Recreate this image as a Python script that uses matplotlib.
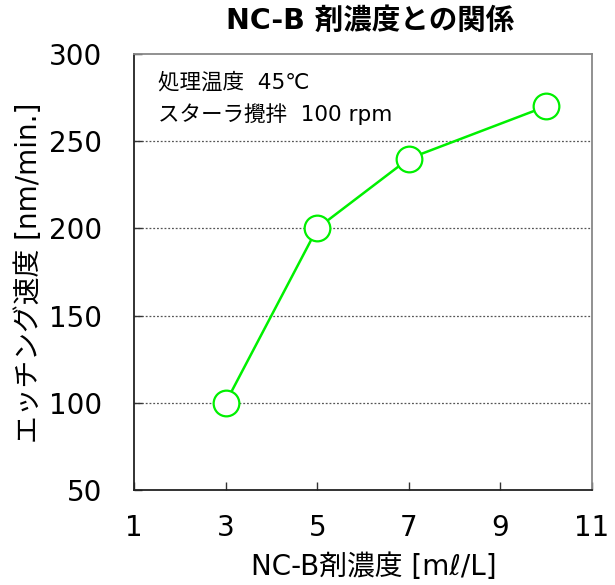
import matplotlib
matplotlib.use("Agg")
import matplotlib.pyplot as plt

plt.rcParams['font.family'] = ['DejaVu Sans', 'Noto Sans CJK JP']

conc = [3, 5, 7, 10]
rate = [100, 200, 240, 270]
xticks = [1, 3, 5, 7, 9, 11]
yticks = [50, 100, 150, 200, 250, 300]
grid_y = [100, 150, 200, 250]

W, H = 615, 585
fig = plt.figure(figsize=(W / 100, H / 100), dpi=100)
ax = fig.add_axes([134 / W, 1 - 490 / H, (592 - 134) / W, (490 - 54) / H])

for g in grid_y:
    ax.axhline(g, color='#555555', linestyle=(0, (1.5, 1.5)), linewidth=0.9, zorder=1)

ax.plot(conc, rate, color='#00f000', linewidth=1.8, marker='o', markersize=18.5,
        markerfacecolor='white', markeredgecolor='#00f000', markeredgewidth=1.6, zorder=3,
        clip_on=False)

ax.set_xlim(1, 11)
ax.set_ylim(50, 300)
ax.set_xticks(xticks)
ax.set_yticks(yticks)
ax.tick_params(direction='in', length=6, width=1, labelsize=20, color='#333333')
ax.tick_params(axis='x', pad=17)
ax.tick_params(axis='y', pad=23)

for s in ['left', 'bottom']:
    ax.spines[s].set_color('#222222')
    ax.spines[s].set_linewidth(1.3)
for s in ['top', 'right']:
    ax.spines[s].set_color('#888888')
    ax.spines[s].set_linewidth(1.3)

fig.text(374 / W, 1 - 567 / H, 'NC-B剤濃度 [mℓ/L]', fontsize=20, ha='center', va='center')
fig.text(29.5 / W, 1 - 273 / H, 'エッチング速度 [nm/min.]', fontsize=20, rotation=90,
         ha='center', va='center')
fig.text(370 / W, 1 - 21 / H, 'NC-B 剤濃度との関係', fontsize=20.5, fontweight='bold',
         ha='center', va='center')

fig.text(158 / W, 1 - 82 / H, '処理温度  45℃', fontsize=15.5, ha='left', va='center')
fig.text(158 / W, 1 - 114 / H, 'スターラ攪拌  100 rpm', fontsize=15.5, ha='left', va='center')

fig.savefig('out.png', dpi=100)
